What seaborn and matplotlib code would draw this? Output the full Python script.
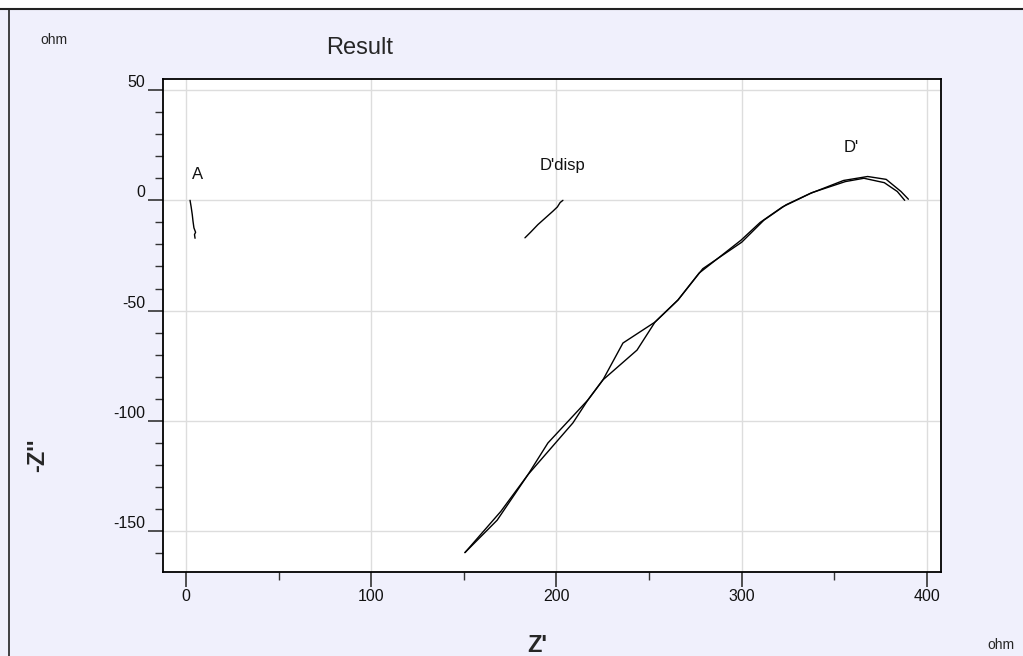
import numpy as np
import pandas as pd
import matplotlib
matplotlib.use("Agg")
import matplotlib.pyplot as plt
import seaborn as sns
from matplotlib.ticker import MultipleLocator

# ==========================================
# Data
# ==========================================

# trace A
a_re = [2.2, 2.8, 3.4, 3.8, 4.3, 5.2, 4.6, 4.9]
a_im = [0.0, -3.0, -6.5, -9.5, -12.5, -14.5, -15.5, -17.2]

# trace D'disp
ddisp_re = [183.0, 186.0, 190.0, 194.0, 198.0, 200.5, 202.0, 203.5]
ddisp_im = [-17.0, -14.5, -11.0, -8.0, -5.0, -3.0, -1.0, 0.0]

# trace D' (two nearly overlapping sweeps)
d1_re = [150.6, 168.0, 184.6, 195.4, 217.0, 225.1, 235.9, 253.2, 265.6,
         277.0, 299.6, 310.0, 322.0, 337.0, 355.0, 368.0, 378.0, 386.0, 390.0]
d1_im = [-159.7, -145.0, -124.4, -110.0, -90.5, -81.4, -64.7, -55.2, -45.2,
         -33.0, -18.1, -10.0, -3.0, 3.1, 9.0, 10.8, 9.5, 4.0, 0.5]

d2_re = [150.6, 170.0, 184.6, 208.9, 217.0, 225.1, 243.5, 253.2, 265.6,
         279.0, 300.0, 312.0, 324.0, 338.0, 356.0, 366.0, 377.0, 384.0, 388.0]
d2_im = [-159.7, -141.0, -124.4, -100.9, -90.5, -81.4, -67.9, -55.2, -45.2,
         -31.0, -19.0, -9.0, -2.0, 3.5, 8.5, 10.0, 8.0, 4.0, 0.0]

labels = ["A", "D'disp", "D'"]
label_pos = [(6.5, 11.8), (203.5, 15.8), (359.0, 24.0)]

# ==========================================
# Style
# ==========================================

sns.set_theme(style="whitegrid")
plt.rcParams["font.family"] = ["Liberation Sans", "DejaVu Sans"]
plt.rcParams["axes.unicode_minus"] = False

bg = "#f0f0fc"

fig = plt.figure(figsize=(10.23, 6.56), dpi=100)
fig.patch.set_facecolor(bg)

# white strip on top + frame lines
top = 1 - 9 / 656
fig.add_artist(plt.Rectangle((0, top), 1, 9 / 656, transform=fig.transFigure,
                             facecolor="white", edgecolor="none"))
fig.add_artist(plt.Line2D([0, 1], [top, top], transform=fig.transFigure,
                          color="#222222", lw=1.5))
fig.add_artist(plt.Line2D([9 / 1023, 9 / 1023], [0, top], transform=fig.transFigure,
                          color="#222222", lw=1.2))

ax = fig.add_axes([163 / 1023, 84 / 656, 778 / 1023, 493 / 656])
ax.set_facecolor("white")

# ==========================================
# Plot traces
# ==========================================

for xs, ys in [(a_re, a_im), (ddisp_re, ddisp_im), (d1_re, d1_im), (d2_re, d2_im)]:
    sns.lineplot(x=xs, y=ys, sort=False, estimator=None, color="black",
                 linewidth=1.0, ax=ax)

for lab, (lx, ly) in zip(labels, label_pos):
    ax.text(lx, ly, lab, fontsize=12, ha="center", va="center", color="#111111")

# ==========================================
# Axes
# ==========================================

ax.set_xlim(-12.4, 407.6)
ax.set_ylim(-168.5, 55)

ax.xaxis.set_major_locator(MultipleLocator(100))
ax.xaxis.set_minor_locator(MultipleLocator(50))
ax.yaxis.set_major_locator(MultipleLocator(50))
ax.yaxis.set_minor_locator(MultipleLocator(10))

ax.grid(True, which="major", color="#dddddd", linewidth=1.0)
ax.grid(False, which="minor")

for s in ax.spines.values():
    s.set_color("black")
    s.set_linewidth(1.3)

ax.tick_params(axis="both", which="major", direction="out", length=11, width=1.2,
               color="#333333", labelsize=11.5, labelcolor="#111111",
               bottom=True, left=True)
ax.tick_params(axis="both", which="minor", direction="out", length=6, width=1.0,
               color="#333333", bottom=True, left=True)
ax.tick_params(axis="x", which="major", pad=1)
ax.tick_params(axis="y", which="major", pad=2)

# y labels sit just above their tick, as in the reference
for t in ax.yaxis.get_major_ticks():
    t.label1.set_va("bottom")

# ==========================================
# Labels
# ==========================================

fig.text(40 / 1023, 1 - 40 / 656, "ohm", fontsize=10, ha="left", va="center")
fig.text(360 / 1023, 1 - 48 / 656, "Result", fontsize=17, ha="center", va="center")
fig.text(38 / 1023, 1 - 455 / 656, "-Z''", fontsize=17, fontweight="bold",
         rotation=90, ha="center", va="center")
fig.text(537 / 1023, 1 - 645 / 656, "Z'", fontsize=17, fontweight="bold",
         ha="center", va="center")
fig.text(987 / 1023, 1 - 645 / 656, "ohm", fontsize=10, ha="left", va="center")

plt.savefig("out.png", dpi=100, facecolor=fig.get_facecolor())
